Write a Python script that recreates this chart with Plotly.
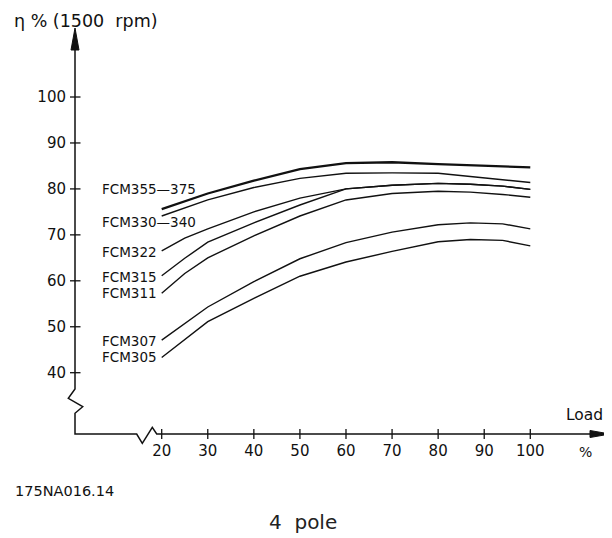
import plotly.graph_objects as go

# ---------------- data ----------------
loads = [20, 25, 30, 40, 50, 60, 70, 80, 87, 94, 100]
eff_355_375 = [75.6, 77.3, 79.0, 81.8, 84.3, 85.6, 85.8, 85.4, 85.1, 84.9, 84.7]
eff_330_340 = [74.1, 75.9, 77.6, 80.3, 82.3, 83.4, 83.5, 83.4, 82.7, 81.9, 81.4]
eff_322 = [66.5, 69.3, 71.3, 75.0, 78.0, 80.0, 80.8, 81.2, 81.0, 80.6, 79.9]
eff_315 = [61.1, 64.9, 68.4, 72.6, 76.5, 80.0, 80.8, 81.2, 81.0, 80.6, 79.9]
eff_311 = [57.3, 61.6, 65.0, 69.8, 74.1, 77.6, 79.0, 79.5, 79.3, 78.8, 78.2]
eff_307 = [47.1, 50.6, 54.3, 59.8, 64.8, 68.3, 70.6, 72.2, 72.6, 72.4, 71.3]
eff_305 = [43.3, 47.3, 51.1, 56.2, 61.0, 64.1, 66.4, 68.5, 69.0, 68.8, 67.6]

series_names = ["FCM355—375", "FCM330—340", "FCM322", "FCM315", "FCM311", "FCM307", "FCM305"]
series_values = [eff_355_375, eff_330_340, eff_322, eff_315, eff_311, eff_307, eff_305]

x_ticks = [20, 30, 40, 50, 60, 70, 80, 90, 100]
y_ticks = [40, 50, 60, 70, 80, 90, 100]
x_tick_labels = [str(v) for v in x_ticks]
y_tick_labels = [str(v) for v in y_ticks]

# ---------------- layout geometry ----------------
# page has an 8px body margin, so the figure is 604x530 placed at (8, 8)
W, H = 604, 530
L, R, T, B = 67, 2, 20, 104
PW, PH = W - L - R, H - T - B
X_RANGE = [1.183, 117.30]
Y_RANGE = [26.66, 115.02]
FONT = "DejaVu Sans"
INK = "#111111"


def px(p):
    # page pixel x -> paper coordinate
    return (p - 75) / PW


def py(p):
    # page pixel y -> paper coordinate
    return (434 - p) / PH


fig = go.Figure()

widths = [2.3, 1.4, 1.4, 1.4, 1.4, 1.4, 1.4]
for name, vals, w in zip(series_names, series_values, widths):
    fig.add_trace(go.Scatter(x=loads, y=vals, mode="lines", name=name,
                             line=dict(color=INK, width=w), showlegend=False,
                             hoverinfo="x+y+name"))

# series labels at left
label_y = [80.0, 72.75, 66.3, 60.8, 57.45, 46.85, 43.4]
for name, yv in zip(series_names, label_y):
    fig.add_annotation(x=6.61, y=yv, xref="x", yref="y", text=name, showarrow=False,
                       xanchor="left", yanchor="middle",
                       font=dict(family=FONT, size=13.5, color=INK))

shapes = []
# axes with breaks
axis_path = (
    f"M {px(75)},{py(48)} L {px(75)},{py(389)} L {px(68.3)},{py(398.3)} "
    f"L {px(82.7)},{py(406.7)} L {px(75)},{py(413.3)} L {px(75)},{py(434)} "
    f"L {px(136.7)},{py(434)} L {px(142.3)},{py(443.3)} L {px(152.3)},{py(427.3)} "
    f"L {px(156.7)},{py(434)} L {px(592)},{py(434)}"
)
shapes.append(dict(type="path", xref="paper", yref="paper", path=axis_path,
                   line=dict(color=INK, width=1.5)))
# arrows
shapes.append(dict(type="path", xref="paper", yref="paper",
                   path=f"M {px(75)},{py(28)} L {px(71)},{py(50)} L {px(79)},{py(50)} Z",
                   fillcolor=INK, line=dict(color=INK, width=1)))
shapes.append(dict(type="path", xref="paper", yref="paper",
                   path=f"M {px(610)},{py(434)} L {px(590)},{py(430.5)} L {px(590)},{py(437.5)} Z",
                   fillcolor=INK, line=dict(color=INK, width=1)))
# tick marks crossing axes
for v in x_ticks:
    shapes.append(dict(type="line", xref="x", yref="paper", x0=v, x1=v,
                       y0=py(429), y1=py(439), line=dict(color=INK, width=1.3)))
for v in y_ticks:
    shapes.append(dict(type="line", xref="paper", yref="y", x0=px(70), x1=px(80.5),
                       y0=v, y1=v, line=dict(color=INK, width=1.3)))

fig.update_layout(shapes=shapes)

# extra texts
fig.add_annotation(xref="paper", yref="paper", x=px(12), y=py(21), text="η %\u00a0(1500\u00a0\u00a0rpm)",
                   showarrow=False, xanchor="left", yanchor="middle",
                   font=dict(family=FONT, size=17.5, color=INK))
fig.add_annotation(xref="paper", yref="paper", x=px(584.5), y=py(415.3), text="Load",
                   showarrow=False, xanchor="center", yanchor="middle",
                   font=dict(family=FONT, size=15.5, color=INK))
fig.add_annotation(xref="paper", yref="paper", x=px(585), y=py(452), text="%",
                   showarrow=False, xanchor="center", yanchor="middle",
                   font=dict(family=FONT, size=14, color=INK))
fig.add_annotation(xref="paper", yref="paper", x=px(12.7), y=py(491), text="175NA016.14",
                   showarrow=False, xanchor="left", yanchor="middle",
                   font=dict(family=FONT, size=14.5, color=INK))
fig.add_annotation(xref="paper", yref="paper", x=px(303), y=py(522), text="4\u00a0\u00a0pole",
                   showarrow=False, xanchor="center", yanchor="middle",
                   font=dict(family=FONT, size=20, color="#222222"))

fig.update_xaxes(range=X_RANGE, tickvals=x_ticks, ticktext=x_tick_labels, ticks="",
                 showline=False, showgrid=False, zeroline=False,
                 tickfont=dict(family=FONT, size=15, color=INK), ticklabelstandoff=6)
fig.update_yaxes(range=Y_RANGE, tickvals=y_ticks, ticktext=y_tick_labels, ticks="",
                 showline=False, showgrid=False, zeroline=False,
                 tickfont=dict(family=FONT, size=15, color=INK), ticklabelstandoff=8)

fig.update_layout(width=W, height=H, margin=dict(l=L, r=R, t=T, b=B, pad=0),
                  paper_bgcolor="white", plot_bgcolor="white", showlegend=False)

fig.write_html("out.html")
